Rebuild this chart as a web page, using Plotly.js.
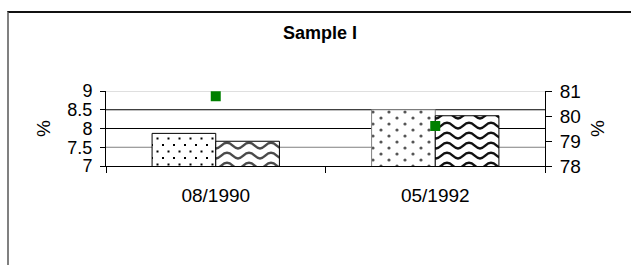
<!DOCTYPE html>
<html>
<head>
<meta charset="utf-8">
<script src="https://cdn.plot.ly/plotly-3.0.1.min.js"></script>
<style>
  html, body { margin: 0; padding: 0; background: #fff; overflow: hidden; }
  #chart { position: absolute; left: 0; top: 0; width: 631px; height: 265px; }
  #frame { position: absolute; left: 7px; top: 11px; width: 700px; height: 400px;
           border-top: 2px solid #111; border-left: 2px solid #808080; pointer-events: none; }
</style>
</head>
<body>
<div id="chart"></div>
<div id="frame"></div>
<script>
// ---- data ----
const categories = ['08/1990', '05/1992'];
const seriesA = [7.87, 8.50];      // left axis, dotted bars
const seriesB = [7.66, 8.34];      // left axis, wavy bars
const seriesC = [80.79, 79.60];    // right axis, green squares
const leftTicks = [7, 7.5, 8, 8.5, 9];
const rightTicks = [78, 79, 80, 81];
const gridValues = [9, 8.5, 8, 7.5];
const gridColors = ['#c0c0c0', '#000000', '#000000', '#808080'];
const titleText = 'Sample I';

const FONT = '"Liberation Sans", Arial, sans-serif';

const traces = [
  {
    type: 'bar', x: categories, y: seriesA, yaxis: 'y',
    marker: { color: '#ffffff', line: { color: ['#000000', '#808080'], width: 1 },
              pattern: { shape: '.', fgcolor: '#000', size: 8, solidity: 0.1 } },
    hoverinfo: 'skip', showlegend: false
  },
  {
    type: 'bar', x: categories, y: seriesB, yaxis: 'y',
    marker: { color: '#ffffff', line: { color: '#000000', width: 1 },
              pattern: { shape: 'x', fgcolor: '#333', size: 8, solidity: 0.2 } },
    hoverinfo: 'skip', showlegend: false
  },
  {
    type: 'scatter', mode: 'markers', x: categories, y: seriesC, yaxis: 'y2',
    marker: { symbol: 'square', size: 10, color: '#008000', line: { width: 0 } },
    hoverinfo: 'skip', showlegend: false
  }
];

const shapes = gridValues.map((v, i) => ({
  type: 'line', xref: 'paper', yref: 'y', x0: 0, x1: 1, y0: v, y1: v,
  line: { color: gridColors[i], width: 1 }, layer: 'below'
}));

const layout = {
  width: 631, height: 265,
  margin: { l: 106, r: 86, t: 91, b: 99, pad: 0 },
  paper_bgcolor: '#ffffff', plot_bgcolor: '#ffffff',
  font: { family: FONT, color: '#000' },
  title: { text: '<b>' + titleText + '</b>', font: { family: FONT, size: 18, color: '#000' },
           xref: 'container', yref: 'container', x: 0.507, y: 0.875,
           xanchor: 'center', yanchor: 'middle' },
  barmode: 'group', bargap: 0.42, bargroupgap: 0,
  showlegend: false,
  shapes: shapes,
  xaxis: {
    type: 'category', tickson: 'boundaries', ticks: 'outside', ticklen: 6,
    tickcolor: '#000', tickwidth: 1, showline: true, linecolor: '#000', linewidth: 1,
    showgrid: false, zeroline: false, tickfont: { family: FONT, size: 19 },
    ticklabelstandoff: 12
  },
  yaxis: {
    range: [7, 9], tickvals: leftTicks, ticktext: leftTicks.map(String),
    ticks: 'outside', ticklen: 5, tickcolor: '#000', showline: true, linecolor: '#000',
    showgrid: false, zeroline: false, tickfont: { family: FONT, size: 18 },
    ticklabelstandoff: 4,
    title: { text: '%', font: { family: FONT, size: 19 }, standoff: 11 }
  },
  yaxis2: {
    range: [78, 81], tickvals: rightTicks, ticktext: rightTicks.map(String),
    overlaying: 'y', side: 'right', anchor: 'x',
    ticks: 'outside', ticklen: 6, tickcolor: '#000', showline: true, linecolor: '#000',
    showgrid: false, zeroline: false, tickfont: { family: FONT, size: 19 },
    ticklabelstandoff: 4,
    title: { text: '%', font: { family: FONT, size: 19 }, standoff: 10 }
  }
};

function addCustomPatterns(gd) {
  const ns = 'http://www.w3.org/2000/svg';
  const svg = gd.querySelector('svg.main-svg');
  if (!svg) return;
  let defs = svg.querySelector('defs');
  if (!defs) { defs = document.createElementNS(ns, 'defs'); svg.insertBefore(defs, svg.firstChild); }
  function pat(id, w, h, build) {
    const p = document.createElementNS(ns, 'pattern');
    p.setAttribute('id', id); p.setAttribute('patternUnits', 'userSpaceOnUse');
    p.setAttribute('width', w); p.setAttribute('height', h);
    const bg = document.createElementNS(ns, 'rect');
    bg.setAttribute('width', w); bg.setAttribute('height', h); bg.setAttribute('fill', '#fff');
    p.appendChild(bg);
    build(p);
    defs.appendChild(p);
  }
  function el(tag, attrs) {
    const e = document.createElementNS(ns, tag);
    for (const k in attrs) e.setAttribute(k, attrs[k]);
    return e;
  }
  pat('dotsA', 11, 13, p => {
    p.appendChild(el('rect', { x: 1, y: 1, width: 2, height: 2, fill: '#000' }));
    p.appendChild(el('rect', { x: 6.5, y: 7.5, width: 2, height: 2, fill: '#000' }));
  });
  pat('dotsB', 16, 12, p => {
    p.appendChild(el('circle', { cx: 3, cy: 3, r: 1.6, fill: '#555' }));
    p.appendChild(el('circle', { cx: 11, cy: 9, r: 1.6, fill: '#555' }));
  });
  const wave = 'M-1,7.5 C5,7.5 5.5,1.8 11,1.8 C16.5,1.8 17,7.5 23,7.5';
  pat('waveA', 22, 10, p => {
    p.appendChild(el('path', { d: wave, fill: 'none', stroke: '#4a4a4a', 'stroke-width': 2.4 }));
  });
  pat('waveB', 22, 10, p => {
    p.appendChild(el('path', { d: wave, fill: 'none', stroke: '#111', 'stroke-width': 2.4 }));
  });
  const traceGroups = gd.querySelectorAll('.barlayer .trace.bars');
  const fills = [['dotsA', 'dotsB'], ['waveA', 'waveB']];
  traceGroups.forEach((g, ti) => {
    g.querySelectorAll('.point path').forEach((path, pi) => {
      if (fills[ti] && fills[ti][pi]) path.style.setProperty('fill', 'url(#' + fills[ti][pi] + ')');
    });
  });
}

Plotly.newPlot('chart', traces, layout, { staticPlot: true, displayModeBar: false })
  .then(gd => { try { addCustomPatterns(gd); } catch (e) { console.error(e); } });
</script>
</body>
</html>
